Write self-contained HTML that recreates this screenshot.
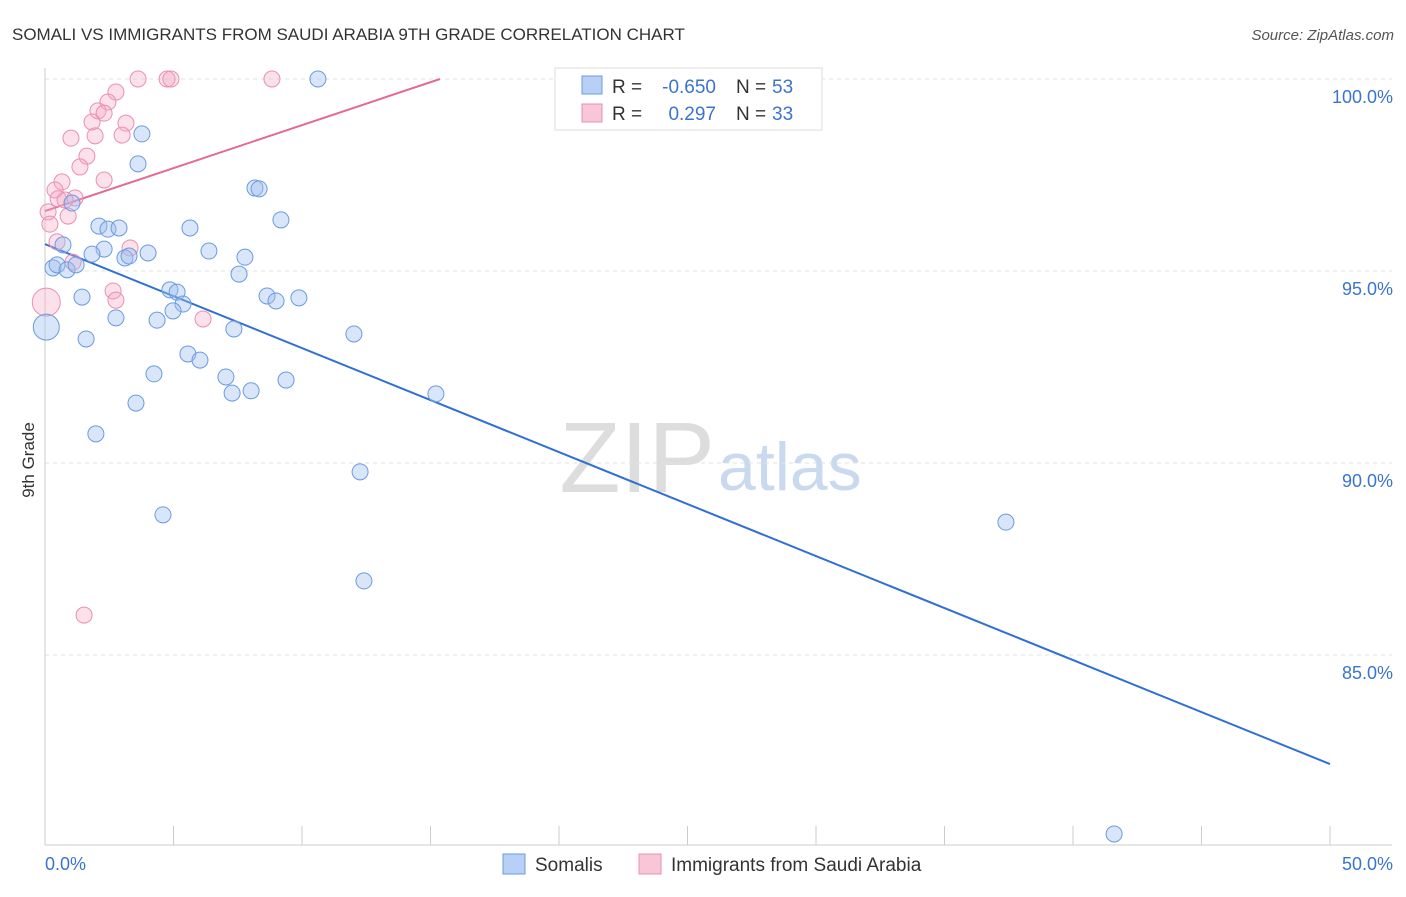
<!DOCTYPE html>
<html><head><meta charset="utf-8"><style>
body{margin:0;background:#fff;font-family:"Liberation Sans",sans-serif;}
svg text{font-family:"Liberation Sans",sans-serif;}
</style></head><body>
<svg id="c" width="1406" height="892">
<text x="12" y="40" font-size="17" fill="#333">SOMALI VS IMMIGRANTS FROM SAUDI ARABIA 9TH GRADE CORRELATION CHART</text>
<text x="1394" y="40" font-size="15" fill="#555" text-anchor="end" font-style="italic">Source: ZipAtlas.com</text>
<text x="34" y="460" font-size="17" fill="#333" text-anchor="middle" transform="rotate(-90 34 460)">9th Grade</text>
<text x="715" y="492" font-size="100" fill="#ddd" text-anchor="end" font-family="Liberation Serif">ZIP</text>
<text x="718" y="490" font-size="68" fill="#c9d9f0">atlas</text>
<g id="grid"></g><g id="trend"></g><g id="pts"></g>
<g>
<rect x="555" y="68" width="267" height="62" fill="#fff" stroke="#ddd"/>
<rect x="582" y="76" width="20" height="18" fill="#b8d0f5" stroke="#6a9be0"/>
<text x="612" y="93" font-size="19" fill="#333">R =</text>
<text x="716" y="93" font-size="19" fill="#3b73d0" text-anchor="end">-0.650</text>
<text x="736" y="93" font-size="19" fill="#333">N =</text>
<text x="772" y="93" font-size="19" fill="#3b73d0">53</text>
<rect x="582" y="104" width="20" height="18" fill="#f8c6d6" stroke="#e890b0"/>
<text x="612" y="120" font-size="19" fill="#333">R =</text>
<text x="716" y="120" font-size="19" fill="#3b73d0" text-anchor="end">0.297</text>
<text x="736" y="120" font-size="19" fill="#333">N =</text>
<text x="772" y="120" font-size="19" fill="#3b73d0">33</text>
</g>
<g>
<rect x="503" y="854" width="22" height="20" fill="#b8d0f5" stroke="#6a9be0"/>
<text x="535" y="871" font-size="19" fill="#333">Somalis</text>
<rect x="639" y="854" width="22" height="20" fill="#f8c6d6" stroke="#e890b0"/>
<text x="671" y="871" font-size="19" fill="#333">Immigrants from Saudi Arabia</text>
</g>
</svg>
<script>
const xTickLabels=["0.0%","50.0%"];
const yTicks=[100,95,90,85];
const yTickLabels=["100.0%","95.0%","90.0%","85.0%"];
const blueX=[10.62,3.77,3.62,8.17,8.33,9.18,2.10,2.45,2.88,5.64,1.05,0.70,2.30,1.83,3.11,3.27,4.01,6.38,7.78,0.31,0.47,0.86,1.21,7.55,1.44,4.86,5.14,5.37,4.98,4.36,2.76,8.64,8.99,9.88,7.35,12.02,0.05,1.60,5.56,6.03,4.24,7.04,9.38,7.28,8.02,3.54,15.21,1.98,12.26,4.59,37.39,12.41,41.60];
const blueY=[100.0,98.57,97.79,97.16,97.14,96.33,96.17,96.09,96.12,96.12,96.77,95.68,95.57,95.44,95.34,95.39,95.47,95.52,95.36,95.08,95.16,95.03,95.16,94.92,94.32,94.51,94.45,94.14,93.96,93.72,93.78,94.35,94.22,94.30,93.49,93.36,93.54,93.23,92.84,92.68,92.32,92.24,92.16,91.82,91.88,91.56,91.80,90.76,89.77,88.65,88.46,86.93,80.34];
const pinkX=[3.62,4.75,4.90,8.83,20.47,2.76,2.45,2.06,2.30,3.15,1.83,1.01,1.95,3.00,1.63,1.36,2.30,0.66,0.39,1.17,0.51,0.78,0.12,0.90,0.19,0.47,3.31,1.09,2.65,2.76,0.05,6.15,1.52];
const pinkY=[100,100,100,100,100,99.66,99.40,99.17,99.11,98.85,98.88,98.46,98.52,98.54,97.99,97.71,97.37,97.32,97.11,96.90,96.88,96.85,96.54,96.43,96.22,95.76,95.60,95.23,94.48,94.24,94.19,93.75,86.04];
const blueTrend=[95.70,82.16];
const pinkTrend=[96.56,100.0,15.37];
const X=v=>45+v/50*1285, Y=v=>79+(100-v)*38.4;
const NS="http://www.w3.org/2000/svg";
function mk(p,t,a){const e=document.createElementNS(NS,t);for(const k in a)e.setAttribute(k,a[k]);p.appendChild(e);return e;}
const g=document.getElementById('grid');
yTicks.forEach((t,i)=>{
 const l=mk(g,'line',{x1:45,x2:1392,y1:Y(t),y2:Y(t),stroke:'#e2e2e2','stroke-dasharray':'4,4'});
 
 
 const tx=mk(g,'text',{x:1393,y:Y(t)+24,'font-size':18,fill:'#3b73d0','text-anchor':'end'});tx.textContent=yTickLabels[i];
 
 
});
mk(g,'line',{x1:45,x2:45,y1:68,y2:845,stroke:'#ccc'});
mk(g,'line',{x1:45,x2:1392,y1:845,y2:845,stroke:'#ccc'});
for(let i=0;i<=10;i++){const x=X(i*5);const t=mk(g,'line',{x1:x,x2:x,y1:826,y2:845,stroke:'#ccc'});
 
 }
[[0,'start',45],[1,'end',1393]].forEach(([i,a,x])=>{const t=mk(g,'text',{x:x,y:870,'font-size':18,fill:'#3b73d0','text-anchor':a});t.textContent=xTickLabels[i];
 
 });
const tr=document.getElementById('trend');
const bl=mk(tr,'line',{x1:X(0),y1:Y(blueTrend[0]),x2:X(50),y2:Y(blueTrend[1]),stroke:'#2f6fd6','stroke-width':2});


const pl=mk(tr,'line',{x1:X(0),y1:Y(pinkTrend[0]),x2:X(pinkTrend[2]),y2:Y(pinkTrend[1]),stroke:'#e36a96','stroke-width':2});


const pg=document.getElementById('pts');
pinkX.forEach((x,i)=>{const c=mk(pg,'circle',{cx:X(x),cy:Y(pinkY[i]),r:x<0.1?14:8,fill:'rgba(245,170,195,0.35)',stroke:'#e890b0','stroke-width':1});
 
 });
blueX.forEach((x,i)=>{const c=mk(pg,'circle',{cx:X(x),cy:Y(blueY[i]),r:x<0.1?13:8,fill:'rgba(160,190,240,0.4)',stroke:'#6a9be0','stroke-width':1});
 
 });
</script>
</body></html>
